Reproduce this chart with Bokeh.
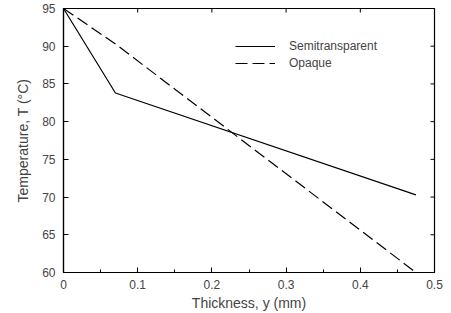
import math
from bokeh.plotting import figure
from bokeh.embed import file_html
from bokeh.resources import INLINE
from bokeh.models import Range1d, Legend, LegendItem, FixedTicker

semi_x = [0.0, 0.07, 0.475]
semi_y = [95.0, 83.8, 70.3]
opaque_x = [0.0, 0.07, 0.475]
opaque_y = [95.0, 90.3, 60.0]
x_ticks = [0, 0.1, 0.2, 0.3, 0.4, 0.5]
x_minor = [0.05, 0.15, 0.25, 0.35, 0.45]
y_ticks = [60, 65, 70, 75, 80, 85, 90, 95]

p = figure(width=451, height=313, output_backend="svg", toolbar_location=None,
           x_range=Range1d(0, 0.5), y_range=Range1d(60, 95),
           min_border_left=63, min_border_right=17, min_border_top=8, min_border_bottom=41)
p.background_fill_color = "white"
p.outline_line_color = "black"
p.outline_line_width = 1.2
p.grid.visible = False

r1 = p.line(semi_x, semi_y, line_color="black", line_width=1.2)
r2 = p.line(opaque_x, opaque_y, line_color="black", line_width=1.2, line_dash="12 5")

# ticks on top and right edges
top_y = [y_ticks[-1]] * len(x_ticks)
right_x = [x_ticks[-1]] * len(y_ticks)
p.ray(x=x_ticks, y=top_y, length=4, angle=-math.pi / 2, length_units="screen", line_color="black")
p.ray(x=right_x, y=y_ticks, length=4, angle=math.pi, length_units="screen", line_color="black")

font = "Liberation Sans"
for ax in [p.xaxis[0], p.yaxis[0]]:
    ax.major_tick_in = 5
    ax.major_tick_out = 0
    ax.minor_tick_in = 3
    ax.minor_tick_out = 0
    ax.major_label_text_font = font
    ax.major_label_text_font_size = "12px"
    ax.axis_label_text_font = font
    ax.axis_label_text_font_size = "14px"
    ax.axis_label_text_font_style = "normal"
    ax.axis_line_color = "black"
    ax.axis_line_width = 1.2

p.xaxis[0].ticker = FixedTicker(ticks=x_ticks, minor_ticks=x_minor)
p.yaxis[0].ticker = FixedTicker(ticks=y_ticks, minor_ticks=[])
p.xaxis[0].axis_label = "Thickness, y (mm)"
p.yaxis[0].axis_label = "Temperature, T (°C)"
p.xaxis[0].axis_label_standoff = 3
p.yaxis[0].axis_label_standoff = 8
p.xaxis[0].major_label_standoff = 7
p.yaxis[0].major_label_standoff = 8
p.xaxis[0].major_label_overrides = {0: "0"}

legend = Legend(items=[LegendItem(label="Semitransparent", renderers=[r1]),
                       LegendItem(label="Opaque", renderers=[r2])],
                location=(172, 201), border_line_color=None, background_fill_alpha=0,
                label_text_font=font, label_text_font_size="12px",
                glyph_width=40, glyph_height=16, spacing=1, padding=2, label_standoff=14)
p.add_layout(legend)

open("out.html", "w").write(file_html(p, INLINE))
